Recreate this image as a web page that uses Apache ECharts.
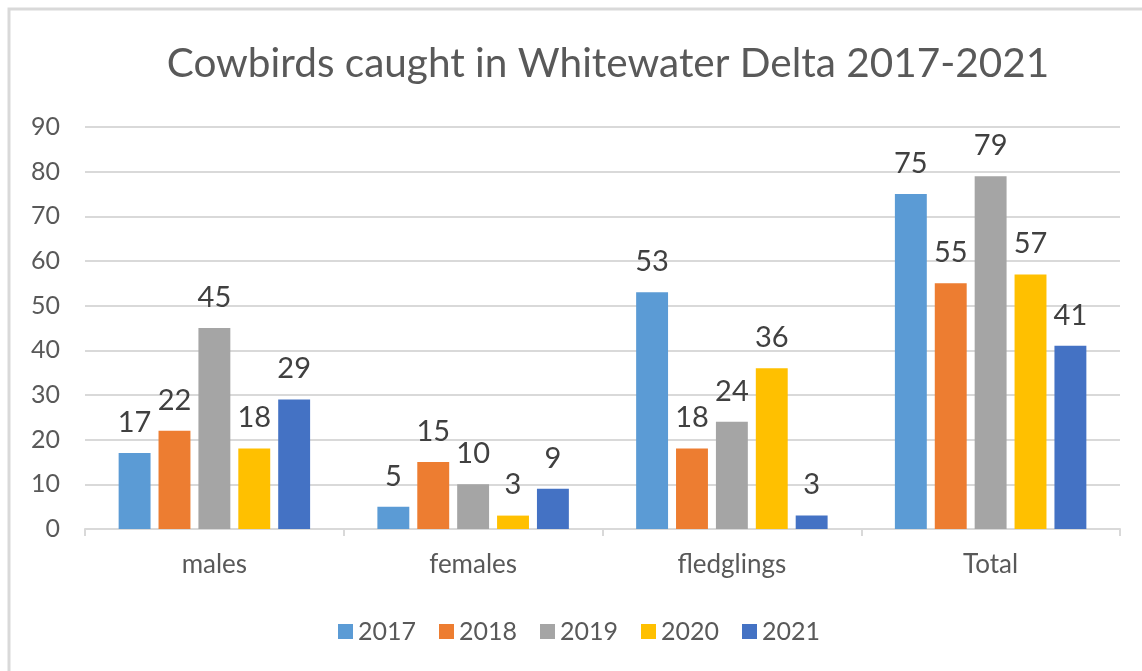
<!DOCTYPE html>
<html>
<head>
<meta charset="utf-8">
<title>Cowbirds caught in Whitewater Delta 2017-2021</title>
<script src="https://cdn.jsdelivr.net/npm/echarts@6/dist/echarts.min.js"></script>
<style>
  html, body { margin: 0; padding: 0; background: #ffffff; }
  #chart { width: 1142px; height: 671px; }
</style>
</head>
<body>
<div id="chart"></div>
<script>
// Bird counts per group, one array per year
const categories = ['males', 'females', 'fledglings', 'Total'];
const years = ['2017', '2018', '2019', '2020', '2021'];
const counts2017 = [17, 5, 53, 75];
const counts2018 = [22, 15, 18, 55];
const counts2019 = [45, 10, 24, 79];
const counts2020 = [18, 3, 36, 57];
const counts2021 = [29, 9, 3, 41];
const yTicks = [0, 10, 20, 30, 40, 50, 60, 70, 80, 90];

const yearData = [counts2017, counts2018, counts2019, counts2020, counts2021];
const palette = ['#5B9BD5', '#ED7D31', '#A5A5A5', '#FFC000', '#4472C4'];
const FONT = 'Lato, "Open Sans", sans-serif';

const chart = echarts.init(document.getElementById('chart'));

const series = years.map((year, i) => ({
  name: year,
  type: 'bar',
  data: yearData[i],
  barGap: '25%',
  barCategoryGap: '26%',
  itemStyle: { color: palette[i] },
  label: {
    show: true,
    position: 'top',
    distance: 16,
    color: '#404040',
    fontFamily: FONT,
    fontSize: 29
  },
  emphasis: { disabled: true }
}));

chart.setOption({
  animation: false,
  backgroundColor: '#ffffff',
  color: palette,
  graphic: [{
    type: 'rect',
    silent: true,
    shape: { x: 9, y: 9, width: 1200, height: 800 },
    style: { fill: 'none', stroke: '#D9D9D9', lineWidth: 3 }
  }],
  title: {
    text: 'Cowbirds caught in Whitewater Delta 2017-2021',
    left: 603,
    top: 38,
    textAlign: 'center',
    textStyle: {
      fontFamily: FONT,
      fontSize: 40.5,
      fontWeight: 'normal',
      color: '#595959'
    }
  },
  grid: { left: 85, right: 22, top: 127, bottom: 142, containLabel: false },
  legend: {
    data: years,
    left: 333,
    top: 614,
    icon: 'rect',
    itemWidth: 15,
    itemHeight: 15,
    itemGap: 23,
    textStyle: { fontFamily: FONT, fontSize: 25, color: '#595959' }
  },
  xAxis: {
    type: 'category',
    data: categories,
    axisLine: { show: true, lineStyle: { color: '#D9D9D9', width: 2 } },
    axisTick: { show: true, length: 7, lineStyle: { color: '#D9D9D9', width: 2 } },
    axisLabel: {
      margin: 23,
      fontFamily: FONT,
      fontSize: 26,
      color: '#595959'
    }
  },
  yAxis: {
    type: 'value',
    min: yTicks[0],
    max: yTicks[yTicks.length - 1],
    interval: yTicks[1] - yTicks[0],
    axisLine: { show: false },
    axisTick: { show: false },
    splitLine: { lineStyle: { color: '#D9D9D9', width: 2 } },
    axisLabel: {
      margin: 25,
      fontFamily: FONT,
      fontSize: 25,
      color: '#595959'
    }
  },
  series: series
});
</script>
</body>
</html>
